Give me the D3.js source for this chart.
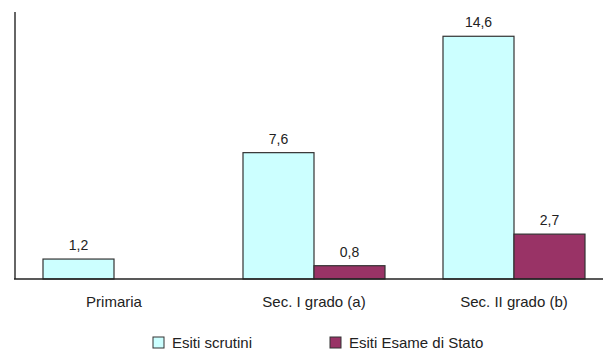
<!DOCTYPE html>
<html>
<head>
<meta charset="utf-8">
<script src="https://cdn.jsdelivr.net/npm/d3@7"></script>
<style>
  body { margin: 0; background: #fff; }
  text { font-family: "Liberation Sans", Arial, sans-serif; fill: #222; }
</style>
</head>
<body>
<svg id="chart"></svg>
<script>
const categories = ['Primaria', 'Sec. I grado (a)', 'Sec. II grado (b)'];
const series = ['Esiti scrutini', 'Esiti Esame di Stato'];
const scrutini = [1.2, 7.6, 14.6];
const esame = [null, 0.8, 2.7];
const colors = ['#ccffff', '#993366'];

const width = 603, height = 350;
const margin = { left: 14, top: 13, bottom: 71 };

const svg = d3.select('#chart')
  .attr('width', width)
  .attr('height', height);

// each category takes 200px, the last one runs past the right edge
const x = d3.scaleBand()
  .domain(categories)
  .range([margin.left, margin.left + 600]);

const inner = d3.scaleBand()
  .domain(series)
  .range([29, 171]);

const y = d3.scaleLinear()
  .domain([0, 16])
  .range([height - margin.bottom, margin.top]);

const rows = [];
categories.forEach((c, i) => {
  rows.push({ cat: c, s: series[0], v: scrutini[i], color: colors[0] });
  if (esame[i] != null) rows.push({ cat: c, s: series[1], v: esame[i], color: colors[1] });
});

// bars
svg.selectAll('.bar')
  .data(rows)
  .enter()
  .append('rect')
  .attr('class', 'bar')
  .attr('x', d => x(d.cat) + inner(d.s))
  .attr('y', d => y(d.v))
  .attr('width', inner.bandwidth())
  .attr('height', d => y(0) - y(d.v))
  .attr('fill', d => d.color)
  .attr('stroke', '#333')
  .attr('stroke-width', 1.2);

// value labels
svg.selectAll('.val')
  .data(rows)
  .enter()
  .append('text')
  .attr('class', 'val')
  .attr('x', d => x(d.cat) + inner(d.s) + inner.bandwidth() / 2)
  .attr('y', d => y(d.v) - 9)
  .attr('text-anchor', 'middle')
  .style('font-size', '14px')
  .text(d => d3.format('.1f')(d.v).replace('.', ','));

// axes lines
svg.append('line')
  .attr('x1', margin.left + 1).attr('x2', margin.left + 1)
  .attr('y1', margin.top - 1).attr('y2', y(0))
  .attr('stroke', '#666').attr('stroke-width', 2);

svg.append('line')
  .attr('x1', margin.left).attr('x2', width)
  .attr('y1', y(0)).attr('y2', y(0))
  .attr('stroke', '#222').attr('stroke-width', 1.5);

// category labels
svg.selectAll('.cat')
  .data(categories)
  .enter()
  .append('text')
  .attr('class', 'cat')
  .attr('x', d => x(d) + 100)
  .attr('y', 307)
  .attr('text-anchor', 'middle')
  .style('font-size', '15px')
  .text(d => d);

// legend
const legendX = [153, 330];
const legend = svg.selectAll('.leg')
  .data(series)
  .enter()
  .append('g')
  .attr('class', 'leg')
  .attr('transform', (d, i) => `translate(${legendX[i]},337)`);

legend.append('rect')
  .attr('width', 11).attr('height', 11)
  .attr('fill', (d, i) => colors[i])
  .attr('stroke', '#333');

legend.append('text')
  .attr('x', 19).attr('y', 11)
  .style('font-size', '15px')
  .text(d => d);
</script>
</body>
</html>
